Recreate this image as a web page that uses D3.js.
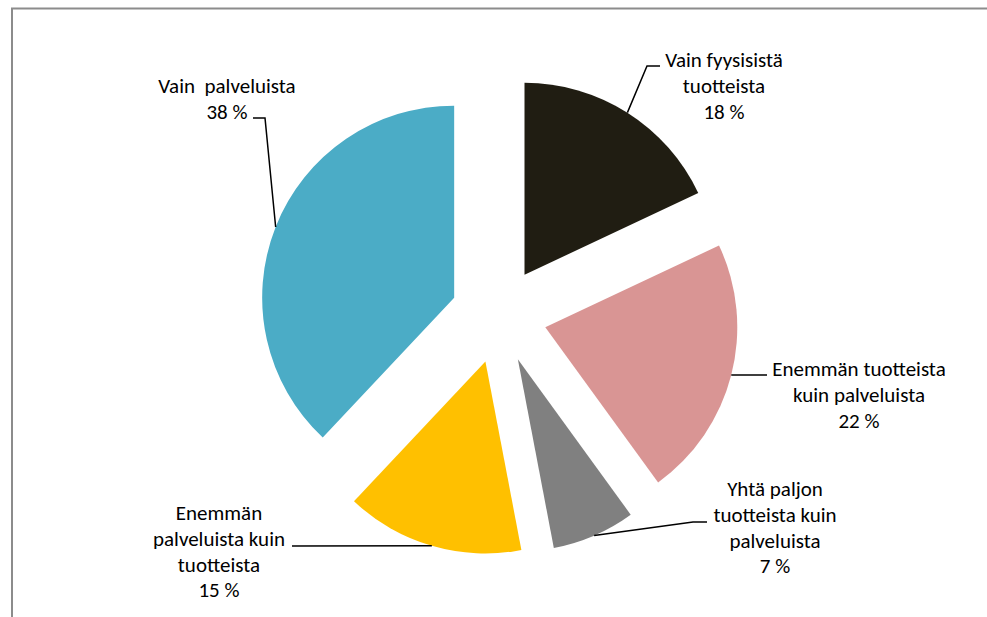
<!DOCTYPE html>
<html>
<head>
<meta charset="utf-8">
<script src="https://cdn.jsdelivr.net/npm/d3@7"></script>
<style>
  body { margin: 0; background: #fff; }
  svg text { font-family: Calibri, Carlito, Lato, sans-serif; font-size: 21px; fill: #000; }
</style>
</head>
<body>
<div id="chart"></div>
<script>
// chart data
var categories = ["Vain fyysisistä tuotteista", "Enemmän tuotteista kuin palveluista",
                  "Yhtä paljon tuotteista kuin palveluista", "Enemmän palveluista kuin tuotteista",
                  "Vain  palveluista"];
var shares = [18, 22, 7, 15, 38];
var colors = ["#201d12", "#d99594", "#808080", "#ffc000", "#4bacc6"];

// label text lines as they break in the chart
var labelLines = [
    ["Vain fyysisistä", "tuotteista"],
    ["Enemmän tuotteista", "kuin palveluista"],
    ["Yhtä paljon", "tuotteista kuin", "palveluista"],
    ["Enemmän", "palveluista kuin", "tuotteista"],
    ["Vain  palveluista"]
];

// label placement: text centre, first baseline, leader elbow and end
var labelLayout = [
    {x: 724, y: 67,  elbow: [647, 66],  end: [660, 66]},
    {x: 859, y: 376, elbow: [755, 375], end: [767, 375]},
    {x: 775, y: 496, elbow: [693, 522], end: [707, 522]},
    {x: 219, y: 520, elbow: [300, 546], end: [292, 546]},
    {x: 227, y: 93,  elbow: [265, 118], end: [253, 118]}
];

function createChart() {
    var width = 987, height = 617;
    var cx = 498.8, cy = 315.3;
    var radius = 192, explode = 48, lineH = 25.8;

    var svg = d3.select("#chart").append("svg")
        .attr("width", width)
        .attr("height", height);

    // frame (top and left edges visible)
    svg.append("path")
        .attr("d", "M12," + height + "V8.5H" + width)
        .attr("fill", "none")
        .attr("stroke", "#8c8c8c")
        .attr("stroke-width", 2);

    var pie = d3.pie().sort(null).value(d => d);
    var arcs = pie(shares);
    var arc = d3.arc().innerRadius(0).outerRadius(radius);

    function offset(d) {
        var a = (d.startAngle + d.endAngle) / 2;
        return [cx + explode * Math.sin(a), cy - explode * Math.cos(a)];
    }

    var g = svg.append("g");

    g.selectAll("path.slice")
        .data(arcs)
        .enter().append("path")
        .attr("class", "slice")
        .attr("transform", d => "translate(" + offset(d) + ")")
        .attr("d", arc)
        .attr("fill", (d, i) => colors[i]);

    // leader lines from the middle of each arc
    var line = d3.line();
    g.selectAll("path.leader")
        .data(arcs)
        .enter().append("path")
        .attr("class", "leader")
        .attr("fill", "none")
        .attr("stroke", "#000")
        .attr("stroke-width", 1.5)
        .attr("d", function(d, i) {
            var o = offset(d);
            var a = (d.startAngle + d.endAngle) / 2;
            var p = [o[0] + radius * Math.sin(a), o[1] - radius * Math.cos(a)];
            var L = labelLayout[i];
            if (i == 3) return line([p, L.end]);
            return line([p, L.elbow, L.end]);
        });

    var labels = g.selectAll("text.label")
        .data(arcs)
        .enter().append("text")
        .attr("class", "label")
        .attr("text-anchor", "middle")
        .attr("x", (d, i) => labelLayout[i].x)
        .attr("y", (d, i) => labelLayout[i].y)
        .attr("xml:space", "preserve");

    labels.each(function(d, i) {
        var t = d3.select(this);
        var lines = labelLines[i].concat([shares[i] + " %"]);
        lines.forEach(function(s, k) {
            t.append("tspan")
                .attr("x", labelLayout[i].x)
                .attr("dy", k == 0 ? 0 : lineH)
                .text(s);
        });
    });
}

createChart();
</script>
</body>
</html>
